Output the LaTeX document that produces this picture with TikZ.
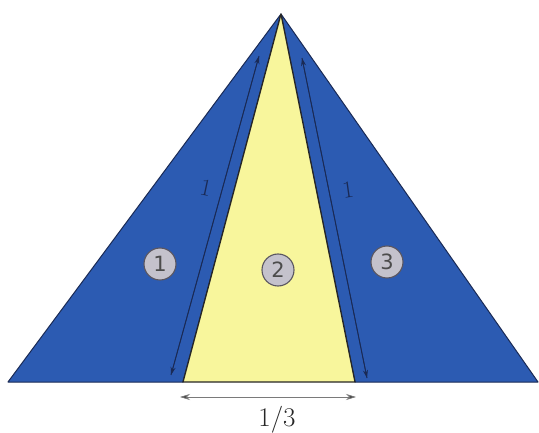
\documentclass[tikz,border=0pt]{standalone}
\usepackage{fontspec}
\setmainfont{Latin Modern Roman}
\newfontfamily\numfont{DejaVu Sans}
\usetikzlibrary{arrows.meta}
\definecolor{pblue}{HTML}{2C5BB2}
\definecolor{pedge}{HTML}{1A2A55}
\definecolor{pyellow}{HTML}{F8F69C}
\definecolor{circfill}{HTML}{C4C2CC}
\definecolor{circedge}{HTML}{5A5660}
\definecolor{dimgray}{HTML}{7A7A7A}
\begin{document}
\begin{tikzpicture}[x=1pt,y=-1pt,
  bluepiece/.style={fill=pblue, draw=pedge, line width=1pt, line join=round},
  yellowpiece/.style={fill=pyellow, draw=black!85, line width=1.3pt, line join=round},
  sidearrow/.style={draw=pedge, line width=0.8pt, -{Stealth[length=8pt,width=5pt]}},
  dimarrow/.style={draw=dimgray, line width=0.6pt, {Stealth[length=10pt,width=6pt,fill=black!70]}-{Stealth[length=10pt,width=6pt,fill=black!70]}},
  numcircle/.style={circle, fill=circfill, draw=circedge, line width=1.1pt, minimum size=32pt, inner sep=0pt, font=\numfont\fontsize{21}{21}\selectfont, text=black!70},
  sidelabel/.style={font=\fontsize{24}{24}\selectfont, text=pedge}
]
\useasboundingbox (0,0) rectangle (539,433);
\fill[white] (0,0) rectangle (539,433);
\coordinate (apex) at (281,14);
\coordinate (bl) at (8,382);
\coordinate (br) at (538,382);
\coordinate (yl) at (183,382);
\coordinate (yr) at (355,382);
% pieces
\path[bluepiece] (bl) -- (apex) -- (yl) -- cycle;
\path[bluepiece] (yr) -- (apex) -- (br) -- cycle;
\path[yellowpiece] (yl) -- (apex) -- (yr) -- cycle;
% side arrows
\coordinate (la1) at (259,56);
\coordinate (la2) at (171,375);
\coordinate (ra1) at (302,58);
\coordinate (ra2) at (367,378);
\draw[sidearrow] (la1) -- (la2);
\draw[sidearrow] (la2) -- (la1);
\draw[sidearrow] (ra1) -- (ra2);
\draw[sidearrow] (ra2) -- (ra1);
\node[sidelabel, rotate=-12] (l1) at (206,188) {1};
\node[sidelabel, rotate=8] (l3) at (348,190) {1};
% numbered circles
\node[numcircle] (c1) at (160,264) {1};
\node[numcircle] (c2) at (278,270) {2};
\node[numcircle] (c3) at (387,262) {3};
% dimension
\coordinate (d1) at (180,397);
\coordinate (d2) at (356,397);
\draw[dimarrow] (d1) -- (d2);
\node[font=\fontsize{27}{27}\selectfont, text=black!85] (frac) at (277,420) {1/3};
\end{tikzpicture}
\end{document}
